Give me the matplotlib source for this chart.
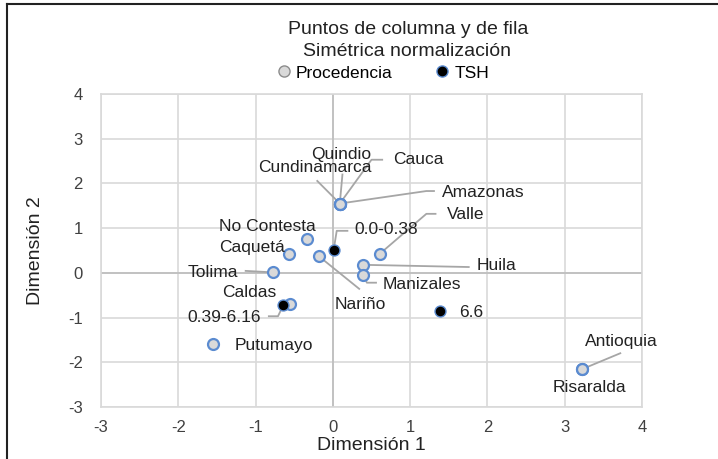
import numpy as np
import matplotlib.pyplot as plt
from matplotlib.lines import Line2D

plt.rcParams["font.family"] = ["Liberation Sans", "DejaVu Sans"]
plt.rcParams["axes.unicode_minus"] = False

# Procedencia (row points)
proc_names = ["Amazonas", "Cundinamarca", "Quindio", "Cauca", "Valle", "No Contesta",
              "Caquetá", "Nariño", "Tolima", "Huila", "Manizales", "Caldas",
              "Putumayo", "Antioquia", "Risaralda"]
proc_x = [0.09, 0.09, 0.09, 0.09, 0.61, -0.34, -0.57, -0.18, -0.77, 0.39, 0.39, -0.56,
          -1.55, 3.23, 3.23]
proc_y = [1.55, 1.55, 1.55, 1.55, 0.43, 0.76, 0.43, 0.37, 0.01, 0.18, -0.04, -0.69,
          -1.60, -2.15, -2.15]

# TSH (column points)
tsh_names = ["0.0-0.38", "0.39-6.16", "6.6"]
tsh_x = [0.01, -0.64, 1.38]
tsh_y = [0.51, -0.72, -0.86]

# label placement: (text x, text y, ha, leader path between text and point)
lab = {
    "Quindio": (0.11, 2.65, "center", [(0.125, 2.22)]),
    "Cundinamarca": (-0.23, 2.35, "center", [(-0.21, 2.07)]),
    "Cauca": (0.78, 2.53, "left", [(0.65, 2.53), (0.50, 2.53)]),
    "Amazonas": (1.41, 1.80, "left", [(1.32, 1.83), (1.21, 1.83)]),
    "Valle": (1.47, 1.30, "left", [(1.34, 1.32), (1.21, 1.32)]),
    "No Contesta": (-0.85, 1.04, "center", []),
    "Caquetá": (-1.05, 0.57, "center", []),
    "Nariño": (0.35, -0.70, "center", [(0.35, -0.37)]),
    "Tolima": (-1.55, 0.0, "center", [(-1.14, 0.045)]),
    "Huila": (1.86, 0.16, "left", [(1.77, 0.13)]),
    "Manizales": (1.15, -0.25, "center", [(0.57, -0.22), (0.44, -0.22)]),
    "Caldas": (-1.08, -0.44, "center", []),
    "Putumayo": (-1.27, -1.62, "left", []),
    "Antioquia": (3.73, -1.53, "center", [(3.73, -1.79)]),
    "Risaralda": (3.32, -2.56, "center", []),
    "0.0-0.38": (0.28, 0.96, "left", [(0.20, 0.94), (0.05, 0.94)]),
    "0.39-6.16": (-1.41, -1.00, "center", [(-0.84, -0.97), (-0.71, -0.97)]),
    "6.6": (1.64, -0.89, "left", []),
}

fig = plt.figure(figsize=(7.18, 4.59), dpi=100)
ax = fig.add_axes([101 / 718, 1 - 407 / 459, 541 / 718, 313 / 459])

ax.set_xlim(-3, 4)
ax.set_ylim(-3, 4)
ax.set_xticks(np.arange(-3, 5))
ax.set_yticks(np.arange(-3, 5))
ax.grid(True, color="#d9d9d9", lw=1.2)
ax.axhline(0, color="#bfbfbf", lw=1.3, zorder=1)
ax.axvline(0, color="#bfbfbf", lw=1.3, zorder=1)
ax.set_axisbelow(True)
for s in ax.spines.values():
    s.set_color("#d9d9d9")
    s.set_linewidth(1.2)
ax.tick_params(length=0, labelsize=12, labelcolor="#404040")
ax.tick_params(axis="y", pad=13)
ax.tick_params(axis="x", pad=9)
ax.set_xlabel("Dimensión 1", fontsize=14, color="#222222", labelpad=2)
ax.set_ylabel("Dimensión 2", fontsize=14, color="#222222", labelpad=17)

# leader lines
all_pts = dict(zip(proc_names, zip(proc_x, proc_y)))
all_pts.update(dict(zip(tsh_names, zip(tsh_x, tsh_y))))
for name, (tx, ty, ha, path) in lab.items():
    if path:
        px, py = all_pts[name]
        xs = [p[0] for p in path] + [px]
        ys = [p[1] for p in path] + [py]
        ax.plot(xs, ys, color="#a6a6a6", lw=1.3, zorder=2, solid_capstyle="butt")

ax.scatter(proc_x, proc_y, s=62, facecolor="#d9d9d9", edgecolor="#5b8bd0",
           linewidth=1.6, zorder=3)
ax.scatter(tsh_x, tsh_y, s=62, facecolor="black", edgecolor="#5b8bd0",
           linewidth=1.0, zorder=4)

for name, (tx, ty, ha, path) in lab.items():
    ax.text(tx, ty, name, ha=ha, va="center", fontsize=12.5, color="#222222", zorder=5)

fig.text(408 / 718, 1 - 30 / 459, "Puntos de columna y de fila", ha="center",
         va="center", fontsize=14, color="#222222")
fig.text(407 / 718, 1 - 52 / 459, "Simétrica normalización", ha="center",
         va="center", fontsize=14, color="#222222")

handles = [
    Line2D([], [], ls="none", marker="o", ms=8, mfc="#d9d9d9", mec="#8c8c8c", mew=1.0),
    Line2D([], [], ls="none", marker="o", ms=8, mfc="black", mec="#5b8bd0", mew=1.0),
]
fig.legend(handles, ["Procedencia", "TSH"], loc="center", ncol=2, frameon=False,
           bbox_to_anchor=(383 / 718, 1 - 73 / 459), fontsize=12.5,
           handlelength=0.8, handletextpad=0.3, columnspacing=2.45)

# chart area border (top and left)
fig.add_artist(Line2D([7 / 718, 7 / 718], [0, 1 - 4 / 459], color="#222222", lw=1.5))
fig.add_artist(Line2D([7 / 718, 1], [1 - 4 / 459, 1 - 4 / 459], color="#222222", lw=1.5))

fig.savefig("out.png", dpi=100)
